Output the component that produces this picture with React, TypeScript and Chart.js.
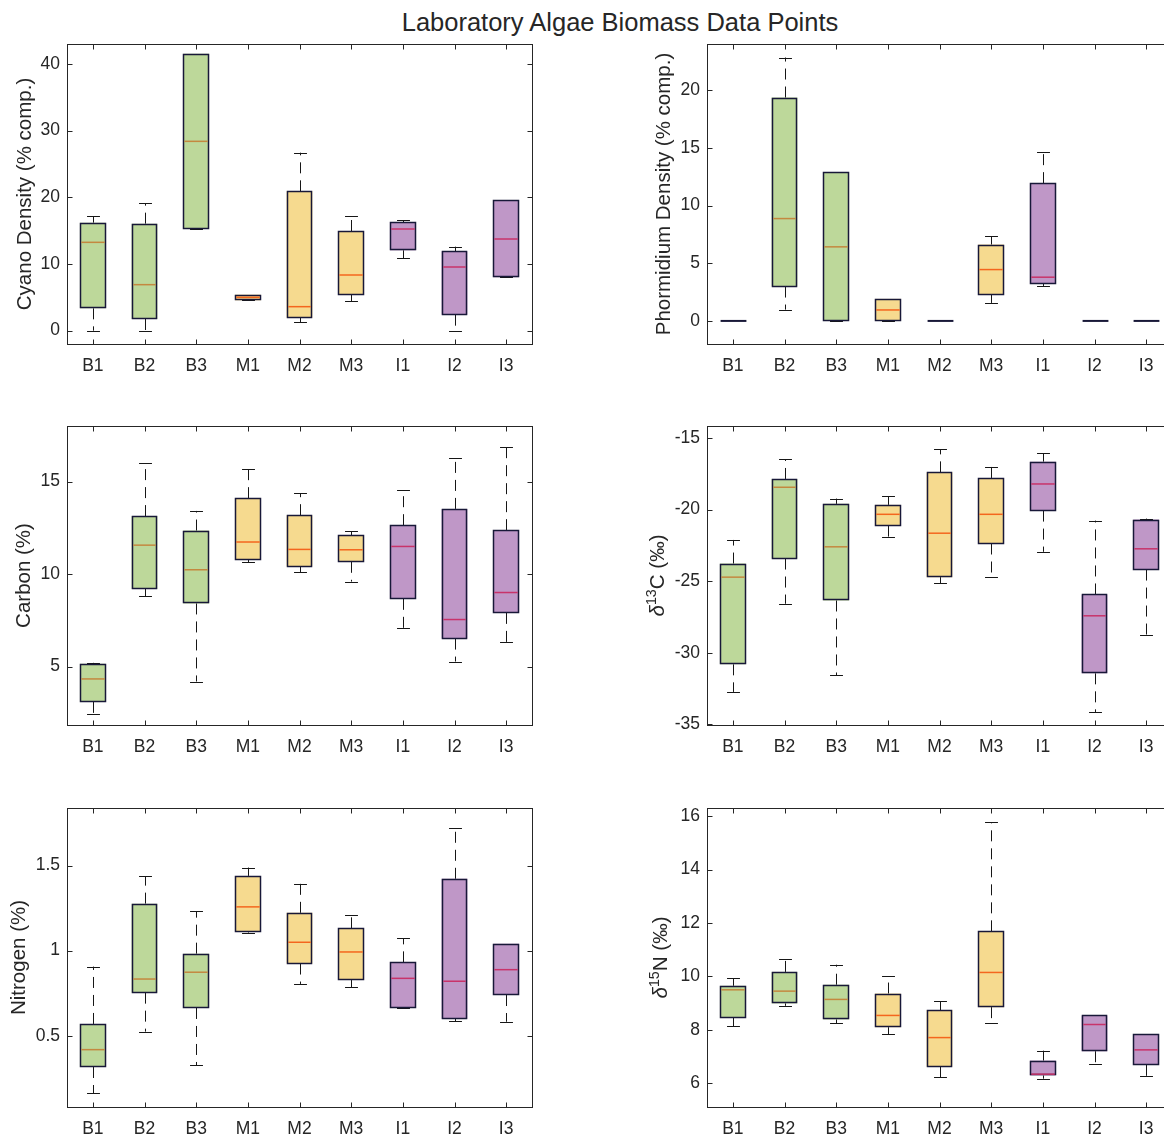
import React, { useEffect, useRef } from 'react';
import { Chart, registerables } from 'chart.js';

Chart.register(...registerables);

// ---------------- DATA ----------------
const categories = ['B1', 'B2', 'B3', 'M1', 'M2', 'M3', 'I1', 'I2', 'I3'];

// Cyano Density (% comp.)
const cyanoLow = [0, 0, 15.25, 4.55, 1.3, 4.4, 10.85, 0, 8.0];
const cyanoQ1 = [3.35, 1.75, 15.25, 4.55, 1.95, 5.4, 12.05, 2.4, 8.0];
const cyanoMedian = [13.25, 6.9, 28.4, 5.0, 3.6, 8.35, 15.25, 9.55, 13.75];
const cyanoQ3 = [16.2, 16.05, 41.55, 5.4, 20.9, 14.95, 16.3, 11.9, 19.55];
const cyanoHigh = [17.15, 19.1, 41.55, 5.4, 26.7, 17.15, 16.6, 12.6, 19.55];
const cyanoTicks = [0, 10, 20, 30, 40];

// Phormidium Density (% comp.)
const phormLow = [0, 0.98, 0, 0, 0, 1.56, 3.03, 0, 0];
const phormQ1 = [0, 2.98, 0, 0, 0, 2.28, 3.21, 0, 0];
const phormMedian = [0, 8.87, 6.42, 0.95, 0, 4.45, 3.79, 0, 0];
const phormQ3 = [0, 19.36, 12.89, 1.91, 0, 6.62, 11.94, 0, 0];
const phormHigh = [0, 22.83, 12.89, 1.91, 0, 7.34, 14.65, 0, 0];
const phormTicks = [0, 5, 10, 15, 20];

// Carbon (%)
const carbonLow = [2.41, 8.79, 4.19, 10.65, 10.11, 9.59, 7.06, 5.27, 6.3];
const carbonQ1 = [3.09, 9.19, 8.41, 10.77, 10.4, 10.66, 8.66, 6.51, 7.9];
const carbonMedian = [4.33, 11.56, 10.23, 11.73, 11.33, 11.31, 11.49, 7.54, 9.0];
const carbonQ3 = [5.15, 13.13, 12.35, 14.1, 13.18, 12.1, 12.64, 13.52, 12.37];
const carbonHigh = [5.2, 15.99, 13.41, 15.67, 14.37, 12.3, 14.53, 16.26, 16.84];
const carbonTicks = [5, 10, 15];

// delta 13C (permil)
const d13cLow = [-32.74, -26.58, -31.58, -21.9, -25.16, -24.7, -22.95, -34.14, -28.79];
const d13cQ1 = [-30.81, -23.42, -26.35, -21.12, -24.72, -22.37, -20.07, -31.44, -24.19];
const d13cMedian = [-24.72, -18.44, -22.6, -20.33, -21.65, -20.33, -18.21, -27.42, -22.74];
const d13cQ3 = [-23.77, -17.86, -19.6, -19.67, -17.4, -17.79, -16.65, -25.93, -20.7];
const d13cHigh = [-22.12, -16.47, -19.23, -19.05, -15.77, -17.0, -16.07, -20.77, -20.63];
const d13cTicks = [-35, -30, -25, -20, -15];

// Nitrogen (%)
const nitroLow = [0.161, 0.524, 0.327, 1.106, 0.804, 0.784, 0.663, 0.586, 0.582];
const nitroQ1 = [0.316, 0.753, 0.663, 1.112, 0.924, 0.827, 0.663, 0.6, 0.739];
const nitroMedian = [0.418, 0.833, 0.873, 1.257, 1.049, 0.992, 0.837, 0.82, 0.888];
const nitroQ3 = [0.569, 1.276, 0.982, 1.439, 1.222, 1.131, 0.931, 1.422, 1.041];
const nitroHigh = [0.906, 1.437, 1.231, 1.488, 1.394, 1.212, 1.073, 1.718, 1.041];
const nitroTicks = [0.5, 1, 1.5];

// delta 15N (permil)
const d15nLow = [8.14, 8.9, 8.25, 7.83, 6.22, 8.24, 6.17, 6.73, 6.27];
const d15nQ1 = [8.45, 8.99, 8.39, 8.1, 6.62, 8.85, 6.29, 7.2, 6.69];
const d15nMedian = [9.5, 9.45, 9.14, 8.54, 7.71, 10.15, 6.34, 8.2, 7.25];
const d15nQ3 = [9.65, 10.17, 9.69, 9.36, 8.74, 11.69, 6.85, 8.54, 7.84];
const d15nHigh = [9.94, 10.65, 10.44, 10.0, 9.07, 15.77, 7.22, 8.54, 7.84];
const d15nTicks = [6, 8, 10, 12, 14, 16];

const chartTitle = 'Laboratory Algae Biomass Data Points';

// ---------------- STYLE ----------------
const FONT_FAMILY = '"Liberation Sans", Arial, Helvetica, sans-serif';
const TEXT_COLOR = '#262626';
const AXIS_COLOR = '#262626';
const EDGE_COLOR = '#181838';
const WHISKER_COLOR = '#161616';
const GREEN = '#bdd89a';
const YELLOW = '#f6da8f';
const PURPLE = '#bf97c7';
const FILLS = [GREEN, GREEN, GREEN, YELLOW, YELLOW, YELLOW, PURPLE, PURPLE, PURPLE];
const MED_G = '#c4883f';
const MED_Y = '#f4661e';
const MED_P = '#c8336a';
const MEDIANS = [MED_G, MED_G, MED_G, MED_Y, MED_Y, MED_Y, MED_P, MED_P, MED_P];

const TICK_FONT = 17.5;
const LABEL_FONT = 20.5;
const TITLE_FONT = 25.5;

const PLOT_LEFT = [67, 707];
const PLOT_TOP = [44, 426, 808];
const PLOT_H = [300, 299, 299];
const PLOT_W = 465;
const Y_AXIS_W = 67;
const X_AXIS_H = 40;
const PAD_T = 4;
const PAD_R = 3;
const TICK_LEN = 5;

type Seg = { t: string; italic?: boolean; sup?: boolean };
type PanelCfg = {
  key: string;
  low: number[]; q1: number[]; med: number[]; q3: number[]; high: number[];
  yMin: number; yMax: number; yTicks: number[];
  label: Seg[]; labelOffset: number;
  col: number; row: number;
};

const panels: PanelCfg[] = [
  { key: 'cyano', low: cyanoLow, q1: cyanoQ1, med: cyanoMedian, q3: cyanoQ3, high: cyanoHigh,
    yMin: -2, yMax: 43, yTicks: cyanoTicks, label: [{ t: 'Cyano Density (% comp.)' }], labelOffset: 43, col: 0, row: 0 },
  { key: 'phorm', low: phormLow, q1: phormQ1, med: phormMedian, q3: phormQ3, high: phormHigh,
    yMin: -2, yMax: 24, yTicks: phormTicks, label: [{ t: 'Phormidium Density (% comp.)' }], labelOffset: 44, col: 1, row: 0 },
  { key: 'carbon', low: carbonLow, q1: carbonQ1, med: carbonMedian, q3: carbonQ3, high: carbonHigh,
    yMin: 1.84, yMax: 18.0, yTicks: carbonTicks, label: [{ t: 'Carbon (%)' }], labelOffset: 44.5, col: 0, row: 1 },
  { key: 'd13c', low: d13cLow, q1: d13cQ1, med: d13cMedian, q3: d13cQ3, high: d13cHigh,
    yMin: -35.05, yMax: -14.16, yTicks: d13cTicks,
    label: [{ t: '\u03b4', italic: true }, { t: '13', sup: true }, { t: 'C (\u2030)' }], labelOffset: 50, col: 1, row: 1 },
  { key: 'nitro', low: nitroLow, q1: nitroQ1, med: nitroMedian, q3: nitroQ3, high: nitroHigh,
    yMin: 0.081, yMax: 1.838, yTicks: nitroTicks, label: [{ t: 'Nitrogen (%)' }], labelOffset: 49.5, col: 0, row: 2 },
  { key: 'd15n', low: d15nLow, q1: d15nQ1, med: d15nMedian, q3: d15nQ3, high: d15nHigh,
    yMin: 5.11, yMax: 16.31, yTicks: d15nTicks,
    label: [{ t: '\u03b4', italic: true }, { t: '15', sup: true }, { t: 'N (\u2030)' }], labelOffset: 47, col: 1, row: 2 },
];

function segFont(s: Seg, size: number) {
  const sz = s.sup ? size * 0.7 : size;
  return `${s.italic ? 'italic ' : ''}${sz}px ${FONT_FAMILY}`;
}

function drawYTitle(ctx: CanvasRenderingContext2D, segs: Seg[], cx: number, cy: number, size: number) {
  ctx.save();
  ctx.translate(cx, cy);
  ctx.rotate(-Math.PI / 2);
  const widths = segs.map((s) => {
    ctx.font = segFont(s, size);
    return ctx.measureText(s.t).width;
  });
  const total = widths.reduce((a, b) => a + b, 0);
  let x = -total / 2;
  ctx.textAlign = 'left';
  ctx.textBaseline = 'alphabetic';
  ctx.fillStyle = TEXT_COLOR;
  const base = size * 0.36;
  segs.forEach((s, i) => {
    ctx.font = segFont(s, size);
    ctx.fillText(s.t, x, s.sup ? base - size * 0.42 : base);
    x += widths[i];
  });
  ctx.restore();
}

function line(ctx: CanvasRenderingContext2D, x1: number, y1: number, x2: number, y2: number) {
  ctx.beginPath();
  ctx.moveTo(x1, y1);
  ctx.lineTo(x2, y2);
  ctx.stroke();
}

function makeBoxPlugin(cfg: PanelCfg) {
  return {
    id: 'boxExtras_' + cfg.key,
    afterDatasetsDraw(chart: any) {
      const { ctx, chartArea: a, scales } = chart;
      const xs = scales.x;
      const ys = scales.y;
      const meta = chart.getDatasetMeta(0);
      ctx.save();
      ctx.lineCap = 'butt';
      for (let i = 0; i < categories.length; i++) {
        const bar = meta.data[i];
        const cx = Math.round(xs.getPixelForValue(i)) + 0.5;
        const bw = bar.width;
        const cap = bw / 4;
        const yLow = ys.getPixelForValue(cfg.low[i]);
        const yQ1 = ys.getPixelForValue(cfg.q1[i]);
        const yMed = ys.getPixelForValue(cfg.med[i]);
        const yQ3 = ys.getPixelForValue(cfg.q3[i]);
        const yHigh = ys.getPixelForValue(cfg.high[i]);
        // whiskers
        ctx.strokeStyle = WHISKER_COLOR;
        ctx.lineWidth = 1;
        ctx.setLineDash([11, 7]);
        if (yHigh < yQ3 - 0.5) line(ctx, cx, yQ3, cx, yHigh);
        if (yLow > yQ1 + 0.5) line(ctx, cx, yQ1, cx, yLow);
        ctx.setLineDash([]);
        const yh = Math.round(yHigh) + 0.5;
        const yl = Math.round(yLow) + 0.5;
        if (cfg.q1[i] !== cfg.q3[i]) {
          line(ctx, cx - cap, yh, cx + cap, yh);
          line(ctx, cx - cap, yl, cx + cap, yl);
          // box outline
          const bl = Math.round(bar.x - bw / 2) + 0.5;
          const br = Math.round(bar.x + bw / 2) - 0.5;
          const bt = Math.round(yQ3) + 0.5;
          const bb = Math.round(yQ1) - 0.5;
          ctx.strokeStyle = EDGE_COLOR;
          ctx.lineWidth = 1.5;
          ctx.strokeRect(bl, bt, br - bl, bb - bt);
          // median
          ctx.strokeStyle = MEDIANS[i];
          ctx.lineWidth = 1.5;
          line(ctx, bl + 0.75, yMed, br - 0.75, yMed);
        } else {
          ctx.strokeStyle = EDGE_COLOR;
          ctx.lineWidth = 2;
          line(ctx, cx - bw / 2, yMed, cx + bw / 2, yMed);
        }
      }
      // axes box
      ctx.strokeStyle = AXIS_COLOR;
      ctx.lineWidth = 1;
      const L = Math.floor(a.left) + 0.5;
      const R = Math.floor(a.right) + 0.5;
      const T = Math.floor(a.top) + 0.5;
      const B = Math.floor(a.bottom) + 0.5;
      ctx.strokeRect(L, T, R - L, B - T);
      for (let i = 0; i < categories.length; i++) {
        const px = Math.round(xs.getPixelForValue(i)) + 0.5;
        line(ctx, px, B, px, B - TICK_LEN);
        line(ctx, px, T, px, T + TICK_LEN);
      }
      cfg.yTicks.forEach((v) => {
        const py = Math.round(ys.getPixelForValue(v)) + 0.5;
        line(ctx, L, py, L + TICK_LEN, py);
        line(ctx, R, py, R - TICK_LEN, py);
      });
      drawYTitle(ctx, cfg.label, a.left - cfg.labelOffset, (a.top + a.bottom) / 2, LABEL_FONT);
      ctx.restore();
    },
  };
}

function Panel({ cfg }: { cfg: PanelCfg }) {
  const ref = useRef<HTMLCanvasElement>(null);
  const w = Y_AXIS_W + PLOT_W + PAD_R;
  const h = PAD_T + PLOT_H[cfg.row] + X_AXIS_H;
  const left = PLOT_LEFT[cfg.col] - Y_AXIS_W;
  const top = PLOT_TOP[cfg.row] - PAD_T;

  useEffect(() => {
    const canvas = ref.current;
    if (!canvas) return;
    const chart = new Chart(canvas, {
      type: 'bar',
      data: {
        labels: categories,
        datasets: [
          {
            data: cfg.q1.map((v, i) => [v, cfg.q3[i]]) as any,
            backgroundColor: FILLS,
            borderWidth: 0,
            borderSkipped: false,
            barPercentage: 0.5,
            categoryPercentage: 1,
          },
        ],
      },
      options: {
        animation: false,
        responsive: false,
        maintainAspectRatio: false,
        events: [],
        layout: { padding: { top: PAD_T, right: PAD_R, left: 0, bottom: 0 } },
        plugins: {
          legend: { display: false },
          tooltip: { enabled: false },
          title: { display: false },
        },
        scales: {
          x: {
            type: 'category',
            offset: true,
            grid: { display: false, drawTicks: false },
            border: { display: false },
            ticks: {
              color: TEXT_COLOR,
              font: { family: FONT_FAMILY, size: TICK_FONT },
              padding: 12,
              maxRotation: 0,
              autoSkip: false,
            },
            afterFit: (s: any) => {
              s.height = X_AXIS_H;
              s.paddingLeft = 0;
              s.paddingRight = 0;
            },
          },
          y: {
            type: 'linear',
            min: cfg.yMin,
            max: cfg.yMax,
            grid: { display: false, drawTicks: false },
            border: { display: false },
            ticks: {
              color: TEXT_COLOR,
              font: { family: FONT_FAMILY, size: TICK_FONT },
              padding: 7,
              callback: (v: any) => String(v),
            },
            afterBuildTicks: (s: any) => {
              s.ticks = cfg.yTicks.map((v) => ({ value: v }));
            },
            afterFit: (s: any) => {
              s.width = Y_AXIS_W;
              s.paddingTop = 0;
              s.paddingBottom = 0;
            },
          },
        },
      },
      plugins: [makeBoxPlugin(cfg)],
    });
    return () => chart.destroy();
  }, [cfg]);

  return (
    <canvas
      ref={ref}
      width={w}
      height={h}
      style={{ position: 'absolute', left, top, width: w, height: h, display: 'block' }}
    />
  );
}

export default function App() {
  return (
    <div
      style={{
        position: 'absolute',
        left: 0,
        top: 0,
        width: 1164,
        height: 1135,
        overflow: 'hidden',
        background: '#ffffff',
      }}
    >
      <div
        style={{
          position: 'absolute',
          left: 0,
          top: 10,
          width: 1240,
          textAlign: 'center',
          fontFamily: FONT_FAMILY,
          fontSize: TITLE_FONT,
          lineHeight: 1,
          color: TEXT_COLOR,
          whiteSpace: 'nowrap',
        }}
      >
        {chartTitle}
      </div>
      {panels.map((p) => (
        <Panel key={p.key} cfg={p} />
      ))}
    </div>
  );
}
